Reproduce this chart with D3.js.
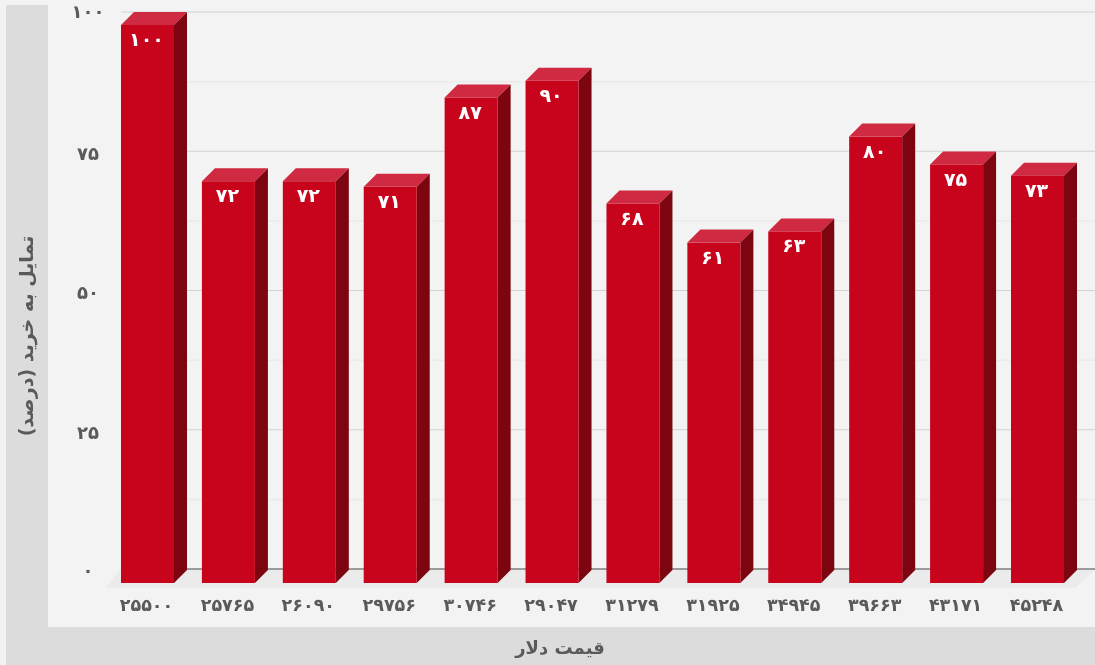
<!DOCTYPE html>
<html><head><meta charset="utf-8">
<script src="https://cdn.jsdelivr.net/npm/d3@7/dist/d3.min.js"></script>
<style>html,body{margin:0;padding:0;background:#f3f3f3}svg{display:block;filter:blur(0.35px)}text{font-family:"DejaVu Sans",sans-serif}</style>
</head><body><svg id="c" width="1095" height="665"></svg>
<script>
const categories=["۲۵۵۰۰","۲۵۷۶۵","۲۶۰۹۰","۲۹۷۵۶","۳۰۷۴۶","۲۹۰۴۷","۳۱۲۷۹","۳۱۹۲۵","۳۴۹۴۵","۳۹۶۶۳","۴۳۱۷۱","۴۵۲۴۸"];
const values=[100,72,72,71,87,90,68,61,63,80,75,73];
const valueLabels=["۱۰۰","۷۲","۷۲","۷۱","۸۷","۹۰","۶۸","۶۱","۶۳","۸۰","۷۵","۷۳"];
const majorTicks=[0,25,50,75,100];
const minorTicks=[12.5,37.5,62.5,87.5];
const tickLabels=["۰","۲۵","۵۰","۷۵","۱۰۰"];
const yTitle="تمایل به خرید (درصد)";
const xTitle="قیمت دلار";

const W=1095,H=665,depth=13;
const svg=d3.select("#c");
const x=d3.scaleBand().domain(d3.range(categories.length)).range([121,1064]).paddingInner(27.9/80.9).paddingOuter(0);
const y=d3.scaleLinear().domain([0,100]).range([583,25]);
const yb=d3.scaleLinear().domain([0,100]).range([569,12]);

svg.append("rect").attr("x",6).attr("y",5).attr("width",42).attr("height",H-5).attr("fill","#dcdcdc");
svg.append("rect").attr("x",6).attr("y",627).attr("width",W-6).attr("height",38).attr("fill","#dcdcdc");

svg.append("polygon").attr("fill","#ebebeb")
 .attr("points",[[121,569],[1095,569],[1095,570],[1075,588],[105,588]].join(" "));

svg.append("g").selectAll("line").data(minorTicks).join("line")
 .attr("x1",121).attr("x2",W).attr("y1",d=>yb(d)).attr("y2",d=>yb(d)).attr("stroke","#ebebeb").attr("stroke-width",1.5);
svg.append("g").selectAll("line").data(majorTicks).join("line")
 .attr("x1",121).attr("x2",W).attr("y1",d=>yb(d)).attr("y2",d=>yb(d))
 .attr("stroke",d=>d===0?"#7f7f7f":"#d2d2d2").attr("stroke-width",d=>d===0?1.5:1.2);

const axisY=d3.axisLeft(yb).tickValues(majorTicks).tickSize(0).tickPadding(0).tickFormat((d,i)=>tickLabels[i]);
const gy=svg.append("g").attr("transform","translate(88,0)").call(axisY);
gy.select(".domain").remove();
gy.selectAll("text").attr("fill","#5a5a5a").attr("font-size",18).attr("font-weight","bold")
 .attr("font-family",'"DejaVu Sans",sans-serif').attr("text-anchor","middle")
 .attr("dy",d=>d===100?"0.28em":d===0?"0.4em":"0.46em");

const bars=svg.append("g").selectAll("g").data(values).join("g");
const bw=x.bandwidth();
bars.append("polygon").attr("fill","#cf2a42").attr("points",(d,i)=>{const l=x(i),t=y(d);return [[l,t],[l+bw,t],[l+bw+depth,t-depth],[l+depth,t-depth]].join(" ")});
bars.append("polygon").attr("fill","#7d0510").attr("points",(d,i)=>{const r=x(i)+bw,t=y(d),b=y(0);return [[r,t],[r+depth,t-depth],[r+depth,b-depth],[r,b]].join(" ")});
bars.append("rect").attr("fill","#c8041c").attr("x",(d,i)=>x(i)).attr("y",d=>y(d)).attr("width",bw).attr("height",d=>y(0)-y(d));
bars.append("text").attr("x",(d,i)=>x(i)+bw/2-1).attr("y",d=>y(d)+21).attr("text-anchor","middle")
 .attr("fill","#fff").attr("font-size",19).attr("font-weight","bold").text((d,i)=>valueLabels[i]);

const axisX=d3.axisBottom(x).tickSize(0).tickPadding(0).tickFormat(i=>categories[i]);
const gx=svg.append("g").attr("transform","translate(-1,599)").call(axisX);
gx.select(".domain").remove();
gx.selectAll("text").attr("fill","#5a5a5a").attr("font-size",17.5).attr("font-weight","bold").attr("font-family",'"DejaVu Sans",sans-serif');

svg.append("text").attr("x",560).attr("y",654).attr("text-anchor","middle").attr("fill","#5a5a5a").attr("font-size",18).attr("font-weight","bold").attr("direction","rtl").text(xTitle);
svg.append("text").attr("transform","translate(33,336) rotate(-90)").attr("text-anchor","middle").attr("fill","#5a5a5a").attr("font-size",19).attr("font-weight","bold").attr("direction","rtl").text(yTitle);
</script></body></html>
